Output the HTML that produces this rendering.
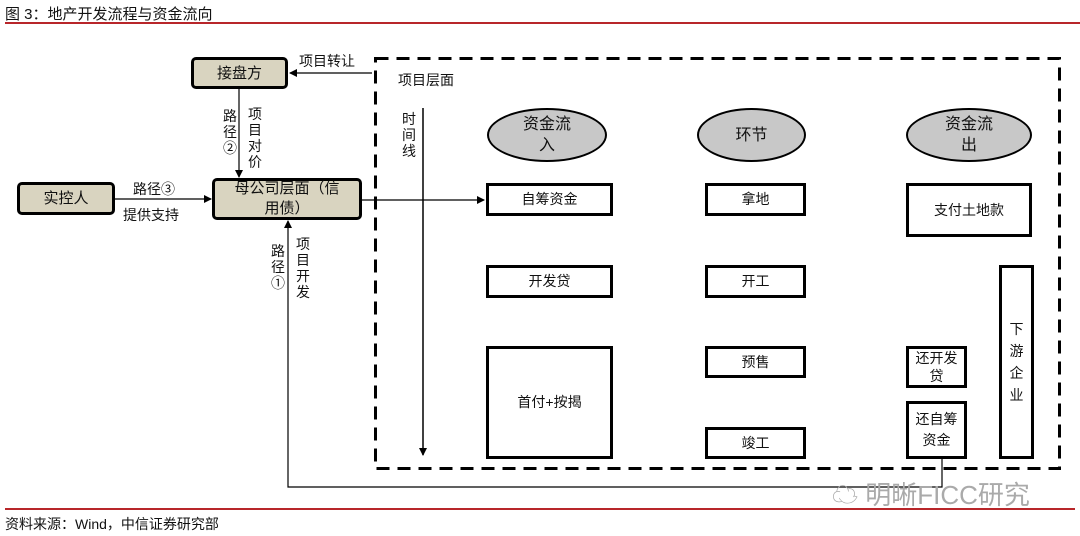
<!DOCTYPE html>
<html><head><meta charset="utf-8"><style>
body{margin:0;width:1080px;height:536px;background:#fff;position:relative;overflow:hidden;font-family:"Liberation Sans","Noto Sans CJK SC",sans-serif;color:#111}
.a{position:absolute}
.b{position:absolute;box-sizing:border-box;border:3px solid #000;background:#fff;display:flex;align-items:center;justify-content:center;text-align:center;font-size:14px;line-height:19px}
.g{background:#d9d4c0;border-radius:5px;font-size:15px}
.e{position:absolute;box-sizing:border-box;border:2px solid #000;border-radius:50%;background:#c8c8c8;display:flex;align-items:center;justify-content:center;text-align:center;font-size:16px;line-height:21px}
.v{position:absolute;font-size:14px;line-height:16px;width:16px;text-align:center}
.t{position:absolute;font-size:14px}
</style></head><body>
<div class="t" style="left:5px;top:3px;font-size:15px">图 3：地产开发流程与资金流向</div>
<div class="a" style="left:5px;top:22px;width:1075px;height:2px;background:#b8262a"></div>
<div class="a" style="left:5px;top:508px;width:1070px;height:2px;background:#b8262a"></div>
<div class="t" style="left:5px;top:514px">资料来源：Wind，中信证券研究部</div>
<svg class="a" style="left:0;top:0" width="1080" height="536">
<defs><marker id="m" markerWidth="8" markerHeight="8" refX="7" refY="4" orient="auto" markerUnits="userSpaceOnUse"><path d="M0,0L8,4L0,8z" fill="#000"/></marker></defs>
<rect x="375.5" y="58.5" width="684" height="410" fill="none" stroke="#000" stroke-width="3" stroke-dasharray="13,8"/>
<line x1="372" y1="73" x2="290" y2="73" stroke="#000" stroke-width="1.2" marker-end="url(#m)"/>
<line x1="239" y1="89" x2="239" y2="177" stroke="#000" stroke-width="1.2" marker-end="url(#m)"/>
<line x1="115" y1="199" x2="211" y2="199" stroke="#000" stroke-width="1.2" marker-end="url(#m)"/>
<line x1="362" y1="200" x2="484" y2="200" stroke="#000" stroke-width="1.2" marker-end="url(#m)"/>
<line x1="423" y1="108" x2="423" y2="455" stroke="#000" stroke-width="1.5" marker-end="url(#m)"/>
<polyline points="942,459 942,487 288,487 288,221" fill="none" stroke="#000" stroke-width="1.2" marker-end="url(#m)"/>
</svg>
<div class="b g" style="left:191px;top:57px;width:97px;height:32px">接盘方</div>
<div class="b g" style="left:17px;top:182px;width:98px;height:33px">实控人</div>
<div class="b g" style="left:212px;top:178px;width:150px;height:42px;line-height:20px">母公司层面（信<br>用债）</div>
<div class="t" style="left:299px;top:51px">项目转让</div>
<div class="t" style="left:398px;top:70px">项目层面</div>
<div class="v" style="left:401px;top:111px">时间线</div>
<div class="v" style="left:222px;top:108px">路径②</div>
<div class="v" style="left:247px;top:106px">项目对价</div>
<div class="t" style="left:133px;top:179px">路径③</div>
<div class="t" style="left:123px;top:205px">提供支持</div>
<div class="v" style="left:270px;top:243px">路径①</div>
<div class="v" style="left:295px;top:236px">项目开发</div>
<div class="e" style="left:487px;top:108px;width:120px;height:54px">资金流<br>入</div>
<div class="e" style="left:697px;top:108px;width:109px;height:54px">环节</div>
<div class="e" style="left:906px;top:108px;width:126px;height:54px">资金流<br>出</div>
<div class="b" style="left:486px;top:183px;width:127px;height:33px">自筹资金</div>
<div class="b" style="left:486px;top:265px;width:127px;height:33px">开发贷</div>
<div class="b" style="left:486px;top:346px;width:127px;height:113px">首付+按揭</div>
<div class="b" style="left:705px;top:183px;width:101px;height:33px">拿地</div>
<div class="b" style="left:705px;top:265px;width:101px;height:33px">开工</div>
<div class="b" style="left:705px;top:346px;width:101px;height:32px">预售</div>
<div class="b" style="left:705px;top:427px;width:101px;height:32px">竣工</div>
<div class="b" style="left:906px;top:183px;width:126px;height:54px">支付土地款</div>
<div class="b" style="left:999px;top:265px;width:35px;height:194px;line-height:22px">下<br>游<br>企<br>业</div>
<div class="b" style="left:906px;top:346px;width:61px;height:42px;line-height:18px">还开发<br>贷</div>
<div class="b" style="left:906px;top:401px;width:61px;height:58px;line-height:21px">还自筹<br>资金</div>
<div class="t" style="left:832px;top:475px;font-size:26px;color:#aaa">☁ 明晰FICC研究</div>
</body></html>
